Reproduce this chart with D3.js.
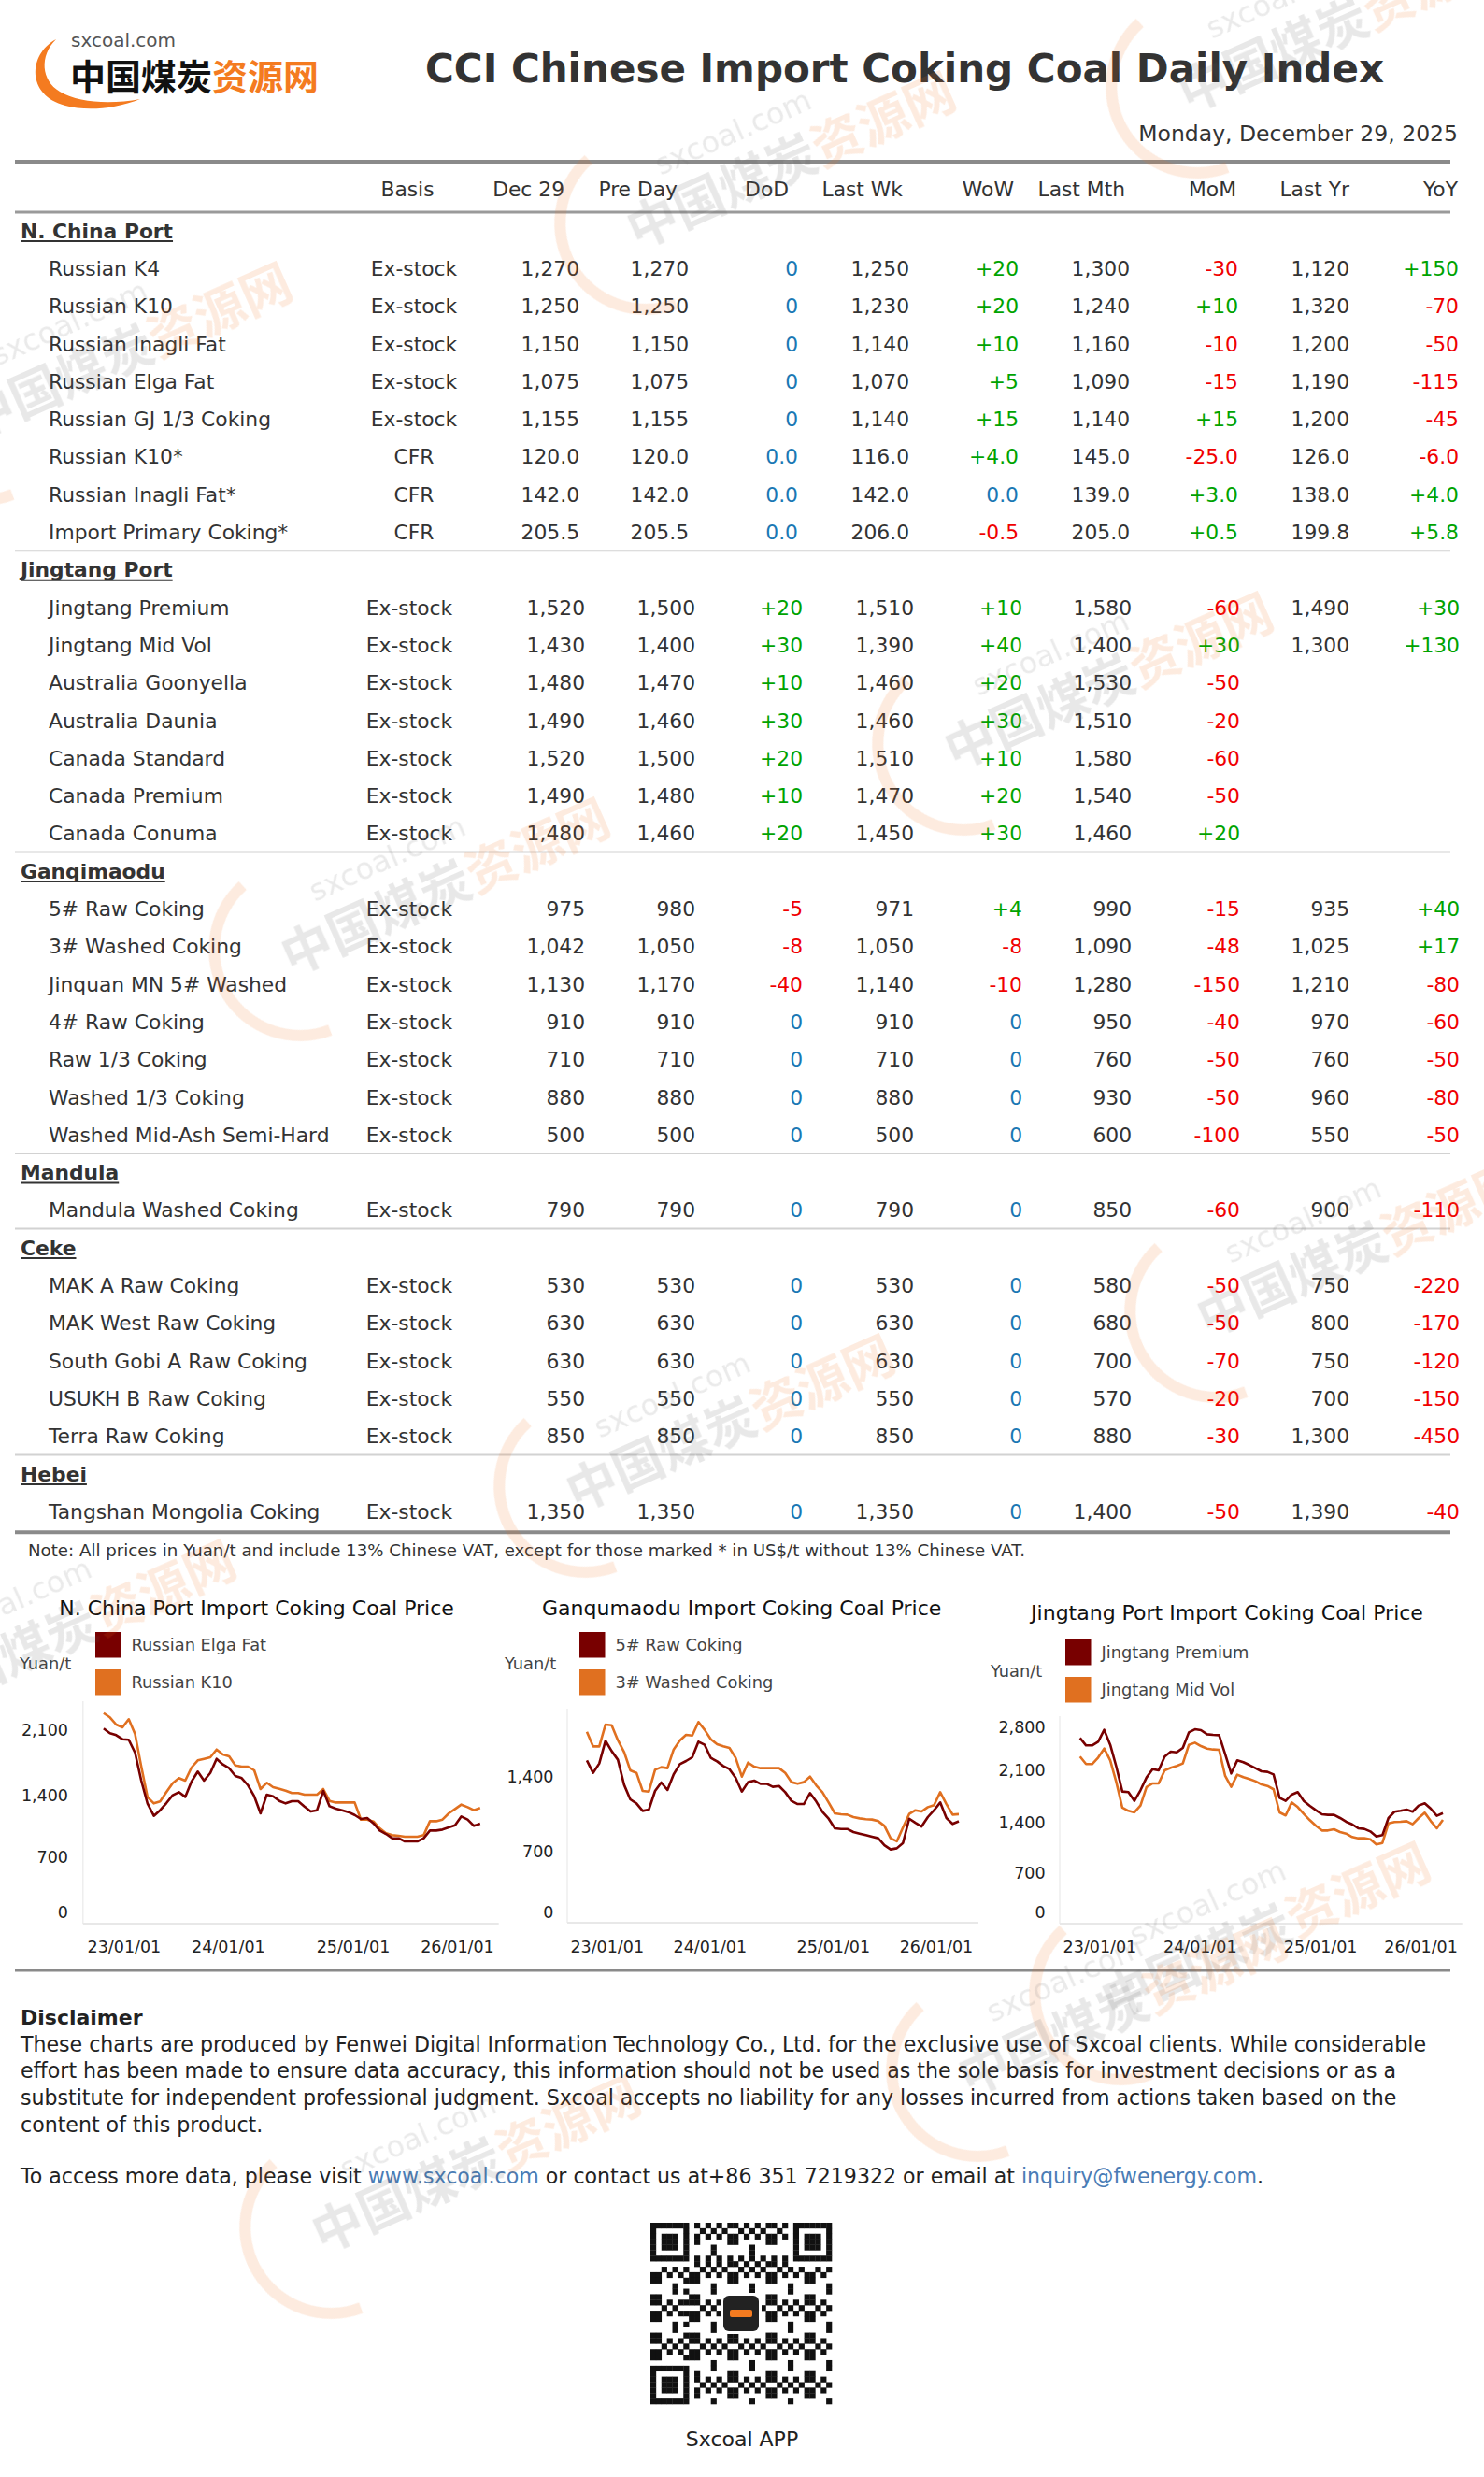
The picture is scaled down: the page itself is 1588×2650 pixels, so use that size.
<!DOCTYPE html>
<html><head><meta charset="utf-8">
<script src="https://cdn.jsdelivr.net/npm/d3@7"></script>
<style>
html,body{margin:0;padding:0;background:#fff;}
svg text{font-family:"DejaVu Sans",sans-serif;}
</style></head>
<body><svg id="page" width="1588" height="2650" xmlns="http://www.w3.org/2000/svg"></svg>
<script>
// ---------------- DATA ----------------
const reportTitle = "CCI Chinese Import Coking Coal Daily Index";
const reportDate = "Monday, December 29, 2025";
const columnHeaders = ["Basis","Dec 29","Pre Day","DoD","Last Wk","WoW","Last Mth","MoM","Last Yr","YoY"];
const sectionNames = ["N. China Port","Jingtang Port","Ganqimaodu","Mandula","Ceke","Hebei"];

const nChinaPortRows = [
  ["Russian K4","Ex-stock","1,270","1,270","0","1,250","+20","1,300","-30","1,120","+150"],
  ["Russian K10","Ex-stock","1,250","1,250","0","1,230","+20","1,240","+10","1,320","-70"],
  ["Russian Inagli Fat","Ex-stock","1,150","1,150","0","1,140","+10","1,160","-10","1,200","-50"],
  ["Russian Elga Fat","Ex-stock","1,075","1,075","0","1,070","+5","1,090","-15","1,190","-115"],
  ["Russian GJ 1/3 Coking","Ex-stock","1,155","1,155","0","1,140","+15","1,140","+15","1,200","-45"],
  ["Russian K10*","CFR","120.0","120.0","0.0","116.0","+4.0","145.0","-25.0","126.0","-6.0"],
  ["Russian Inagli Fat*","CFR","142.0","142.0","0.0","142.0","0.0","139.0","+3.0","138.0","+4.0"],
  ["Import Primary Coking*","CFR","205.5","205.5","0.0","206.0","-0.5","205.0","+0.5","199.8","+5.8"]
];
const jingtangPortRows = [
  ["Jingtang Premium","Ex-stock","1,520","1,500","+20","1,510","+10","1,580","-60","1,490","+30"],
  ["Jingtang Mid Vol","Ex-stock","1,430","1,400","+30","1,390","+40","1,400","+30","1,300","+130"],
  ["Australia Goonyella","Ex-stock","1,480","1,470","+10","1,460","+20","1,530","-50","",""],
  ["Australia Daunia","Ex-stock","1,490","1,460","+30","1,460","+30","1,510","-20","",""],
  ["Canada Standard","Ex-stock","1,520","1,500","+20","1,510","+10","1,580","-60","",""],
  ["Canada Premium","Ex-stock","1,490","1,480","+10","1,470","+20","1,540","-50","",""],
  ["Canada Conuma","Ex-stock","1,480","1,460","+20","1,450","+30","1,460","+20","",""]
];
const ganqimaoduRows = [
  ["5# Raw Coking","Ex-stock","975","980","-5","971","+4","990","-15","935","+40"],
  ["3# Washed Coking","Ex-stock","1,042","1,050","-8","1,050","-8","1,090","-48","1,025","+17"],
  ["Jinquan MN 5# Washed","Ex-stock","1,130","1,170","-40","1,140","-10","1,280","-150","1,210","-80"],
  ["4# Raw Coking","Ex-stock","910","910","0","910","0","950","-40","970","-60"],
  ["Raw 1/3 Coking","Ex-stock","710","710","0","710","0","760","-50","760","-50"],
  ["Washed 1/3 Coking","Ex-stock","880","880","0","880","0","930","-50","960","-80"],
  ["Washed Mid-Ash Semi-Hard","Ex-stock","500","500","0","500","0","600","-100","550","-50"]
];
const mandulaRows = [
  ["Mandula Washed Coking","Ex-stock","790","790","0","790","0","850","-60","900","-110"]
];
const cekeRows = [
  ["MAK A Raw Coking","Ex-stock","530","530","0","530","0","580","-50","750","-220"],
  ["MAK West Raw Coking","Ex-stock","630","630","0","630","0","680","-50","800","-170"],
  ["South Gobi A Raw Coking","Ex-stock","630","630","0","630","0","700","-70","750","-120"],
  ["USUKH B Raw Coking","Ex-stock","550","550","0","550","0","570","-20","700","-150"],
  ["Terra Raw Coking","Ex-stock","850","850","0","850","0","880","-30","1,300","-450"]
];
const hebeiRows = [
  ["Tangshan Mongolia Coking","Ex-stock","1,350","1,350","0","1,350","0","1,400","-50","1,390","-40"]
];
const noteText = "Note:  All prices in Yuan/t and include 13% Chinese VAT, except for those marked * in US$/t without 13% Chinese VAT.";

// chart series (Yuan/t), read at evenly spaced points from late 2022 to 29 Dec 2025
const russianElgaFat = [2107,2057,2037,1993,1987,1850,1550,1298,1162,1225,1305,1393,1427,1375,1540,1647,1550,1633,1783,1723,1683,1600,1577,1500,1382,1190,1400,1382,1330,1302,1327,1327,1267,1211,1225,1440,1270,1242,1225,1204,1172,1127,1137,1078,997,959,910,910,875,875,875,910,997,997,1008,1032,1057,1155,1120,1050,1075];
const russianK10 = [2273,2227,2150,2120,2207,2050,1700,1372,1302,1323,1427,1523,1577,1550,1690,1767,1783,1800,1883,1830,1810,1713,1700,1700,1660,1460,1527,1480,1463,1443,1417,1417,1400,1400,1400,1460,1330,1312,1312,1312,1312,1120,1120,1099,1022,966,945,938,928,928,928,945,1102,1102,1120,1190,1239,1288,1260,1225,1250];
const rawCoking5 = [1546,1429,1517,1730,1633,1552,1318,1181,1143,1073,1085,1260,1339,1269,1415,1511,1540,1575,1721,1692,1569,1537,1493,1464,1383,1254,1342,1356,1327,1327,1298,1306,1248,1167,1137,1137,1240,1161,1065,1000,910,904,904,875,860,846,831,817,752,712,723,773,1000,962,927,1015,1079,1152,1006,951,975];
const washedCoking3 = [1814,1677,1677,1881,1875,1735,1625,1453,1429,1260,1254,1458,1482,1473,1648,1732,1785,1779,1905,1832,1744,1698,1677,1662,1569,1394,1525,1487,1473,1473,1473,1473,1429,1342,1327,1342,1394,1312,1248,1152,1050,1041,1038,1015,1003,995,992,977,933,817,788,919,1044,1079,1067,1108,1126,1248,1137,1038,1042];
const jingtangPremium = [2621,2499,2499,2560,2754,2509,2151,1808,1800,1683,1825,1996,2110,2092,2315,2396,2386,2458,2713,2764,2749,2682,2672,2667,2355,2050,2253,2223,2177,2126,2079,2071,2037,1725,1683,1767,1800,1683,1617,1558,1504,1496,1496,1454,1404,1368,1314,1305,1270,1201,1218,1454,1538,1550,1567,1538,1621,1650,1579,1483,1520];
const jingtangMidVol = [2315,2192,2192,2300,2447,2253,1933,1592,1550,1530,1621,1867,1917,1917,2092,2131,2161,2202,2509,2544,2488,2447,2432,2427,2017,1871,2033,2000,1975,1946,1904,1883,1838,1529,1488,1662,1600,1508,1425,1348,1283,1283,1300,1262,1240,1193,1175,1175,1162,1089,1110,1380,1400,1404,1412,1370,1454,1525,1412,1314,1430];
const xTickLabels = ["23/01/01","24/01/01","25/01/01","26/01/01"];
const xTickIndex = [3.2, 19.8, 39.7, 56.3];
const yTicksNChina = [0,700,1400,2100];
const yTicksGanq = [0,700,1400];
const yTicksJingtang = [0,700,1400,2100,2800];

const disclaimerTitle = "Disclaimer";
const disclaimerLines = [
  "These charts are produced by Fenwei Digital Information Technology Co., Ltd. for the exclusive use of Sxcoal clients. While considerable",
  "effort has been made to ensure data accuracy, this information should not be used as the sole basis for investment decisions or as a",
  "substitute for independent professional judgment. Sxcoal accepts no liability for any losses incurred from actions taken based on the",
  "content of this product."
];
const contactParts = [
  ["To access more data, please visit ", false],
  ["www.sxcoal.com", true],
  [" or contact us at+86 351 7219322 or email at ", false],
  ["inquiry@fwenergy.com", true],
  [".", false]
];

// ---------------- DRAW ----------------
const svg = d3.select("#page");
svg.append("rect").attr("width",1588).attr("height",2650).attr("fill","#fff");
const TXT = "#333";
const GREEN = "#00a300", RED = "#f00000", BLUE = "#1a78b4";
const DARK = "#780000", ORANGE = "#e07020";

// Logo
const logo = svg.append("g");
logo.append("path")
  .attr("d","M60,42 C30,58 28,102 70,113 C92,119 122,117 150,106 C118,112 84,110 64,98 C44,86 42,60 60,42 Z")
  .attr("fill","#f47b20");
logo.append("text").attr("x",76).attr("y",50).attr("font-size",20).attr("fill","#555").text("sxcoal.com");
const cn = logo.append("text").attr("x",75).attr("y",96).attr("font-size",38).attr("font-weight","bold")
  .style("font-family","'Noto Sans CJK SC',sans-serif");
cn.append("tspan").attr("fill","#111").text("中国煤炭");
cn.append("tspan").attr("fill","#f47b20").text("资源网");

svg.append("text").attr("x",968).attr("y",88).attr("text-anchor","middle")
  .attr("font-size",42).attr("font-weight","bold").attr("fill",TXT).text(reportTitle);
svg.append("text").attr("x",1560).attr("y",143).attr("dy","0.35em").attr("text-anchor","end")
  .attr("font-size",23.5).attr("fill",TXT).text(reportDate);

function hline(y, w, color, x1=16, x2=1552){
  svg.append("line").attr("x1",x1).attr("x2",x2).attr("y1",y).attr("y2",y)
    .attr("stroke",color).attr("stroke-width",w);
}
hline(173, 4, "#8a8a8a");
hline(227, 3, "#9a9a9a");

// header row
const FS = 21.8;
const headRight = [604,725,844,966,1085,1204,1323,1444,1560];
svg.append("text").attr("x",436).attr("y",202).attr("dy","0.35em").attr("text-anchor","middle")
  .attr("font-size",FS).attr("fill",TXT).text(columnHeaders[0]);
svg.selectAll("text.hdr").data(columnHeaders.slice(1)).join("text").attr("class","hdr")
  .attr("x",(d,i)=>headRight[i]).attr("y",202).attr("dy","0.35em").attr("text-anchor","end")
  .attr("font-size",FS).attr("fill",TXT).text(d=>d);

const colsA = {basis:443, right:[620,737,854,973,1090,1209,1325,1444,1561]};
const colsB = {basis:438, right:[626,744,859,978,1094,1211,1327,1444,1562]};
const sections = [
  {name:sectionNames[0], rows:nChinaPortRows, cols:colsA},
  {name:sectionNames[1], rows:jingtangPortRows, cols:colsB},
  {name:sectionNames[2], rows:ganqimaoduRows, cols:colsB},
  {name:sectionNames[3], rows:mandulaRows, cols:colsB},
  {name:sectionNames[4], rows:cekeRows, cols:colsB},
  {name:sectionNames[5], rows:hebeiRows, cols:colsB}
];
const rowY = k => 247 + 40.3*k;
function changeColor(v){ return v.startsWith("+") ? GREEN : (v.startsWith("-") ? RED : BLUE); }
let k = 0;
sections.forEach((sec, si) => {
  if (si > 0) hline(rowY(k) - 20.5, 2, "#d2d2d2");
  const t = svg.append("text").attr("x",22).attr("y",rowY(k)).attr("dy","0.35em")
    .attr("font-size",FS).attr("font-weight","bold").attr("fill",TXT).text(sec.name);
  const w = t.node().getComputedTextLength();
  svg.append("line").attr("x1",22).attr("x2",22+w).attr("y1",rowY(k)+11).attr("y2",rowY(k)+11)
    .attr("stroke",TXT).attr("stroke-width",2);
  k++;
  const start = k;
  const rows = svg.append("g").selectAll("g").data(sec.rows).join("g")
    .attr("transform",(d,i)=>`translate(0,${rowY(start+i)})`);
  rows.append("text").attr("x",52).attr("dy","0.35em").attr("font-size",FS).attr("fill",TXT).text(d=>d[0]);
  rows.append("text").attr("x",sec.cols.basis).attr("dy","0.35em").attr("text-anchor","middle")
    .attr("font-size",FS).attr("fill",TXT).text(d=>d[1]);
  rows.each(function(d){
    const g = d3.select(this);
    d.slice(2).forEach((v,j) => {
      if (!v) return;
      g.append("text").attr("x",sec.cols.right[j]).attr("dy","0.35em").attr("text-anchor","end")
        .attr("font-size",FS).attr("fill",(j>0 && j%2===0) ? changeColor(v) : TXT).text(v);
    });
  });
  k += sec.rows.length;
});
hline(rowY(k-1) + 22, 4, "#8a8a8a");
svg.append("text").attr("x",30).attr("y",1659).attr("dy","0.35em").attr("font-size",18.2).attr("fill",TXT).text(noteText);

// ---------------- CHARTS ----------------
function drawChart(c){
  const g = svg.append("g");
  g.append("text").attr("x",c.titleX).attr("y",c.titleY).attr("text-anchor","middle")
    .attr("font-size",22).attr("fill","#111").text(c.title);
  c.series.forEach((s,i) => {
    g.append("rect").attr("x",c.legX).attr("y",c.legY + i*40).attr("width",27.5).attr("height",27.5).attr("fill",s.color);
    g.append("text").attr("x",c.legX+38.5).attr("y",c.legY + i*40 + 14).attr("dy","0.35em")
      .attr("font-size",17.8).attr("fill","#444").text(s.name);
  });
  g.append("text").attr("x",c.unitX).attr("y",c.unitY).attr("dy","0.35em").attr("font-size",17.8).attr("fill","#444").text("Yuan/t");
  g.append("line").attr("x1",c.frameL).attr("x2",c.frameL).attr("y1",c.frameT).attr("y2",c.frameB).attr("stroke","#eeeeee").attr("stroke-width",1.5);
  g.append("line").attr("x1",c.frameL).attr("x2",c.frameR).attr("y1",c.frameB).attr("y2",c.frameB).attr("stroke","#e8e8e8").attr("stroke-width",2);

  const n = c.series[0].values.length;
  const x = d3.scaleLinear().domain([0, n-1]).range([c.x0, c.x1]);
  const y = d3.scaleLinear().domain(c.yTicks).range(c.yPos);

  const ya = g.append("g").attr("transform",`translate(${c.tickRight},0)`)
    .call(d3.axisLeft(y).tickValues(c.yTicks).tickSize(0).tickPadding(0).tickFormat(d3.format(",")));
  ya.select(".domain").remove();
  ya.selectAll("text").attr("font-size",17.5).attr("fill","#222").style("font-family","'DejaVu Sans',sans-serif").attr("dy","0.35em");

  const xa = g.append("g").attr("transform",`translate(0,2083)`)
    .call(d3.axisBottom(x).tickValues(xTickIndex).tickSize(0).tickPadding(0).tickFormat((d,i)=>xTickLabels[i]));
  xa.select(".domain").remove();
  xa.selectAll("text").attr("y",0).attr("dy","0.35em").attr("font-size",17.5).attr("fill","#222").style("font-family","'DejaVu Sans',sans-serif");

  const line = d3.line().x((d,i)=>x(i)).y(d=>y(d));
  c.series.slice().reverse().forEach(s => {
    g.append("path").datum(s.values).attr("d",line).attr("fill","none")
      .attr("stroke",s.color).attr("stroke-width",2.6).attr("stroke-linejoin","round");
  });
}

drawChart({
  title:"N. China Port Import Coking Coal Price", titleX:274.6, titleY:1728,
  legX:102, legY:1746, unitX:21, unitY:1780,
  frameL:88.8, frameT:1820, frameB:2058, frameR:533.7,
  x0:110.9, x1:513.8, tickRight:73,
  yTicks:yTicksNChina, yPos:[2045.7,1986.7,1920,1850],
  series:[{name:"Russian Elga Fat", color:DARK, values:russianElgaFat},
          {name:"Russian K10", color:ORANGE, values:russianK10}]
});
drawChart({
  title:"Ganqumaodu Import Coking Coal Price", titleX:793.7, titleY:1728,
  legX:620, legY:1746, unitX:540, unitY:1780,
  frameL:607, frameT:1828, frameB:2057, frameR:1047,
  x0:628, x1:1026, tickRight:592.5,
  yTicks:yTicksGanq, yPos:[2045.7,1980,1900],
  series:[{name:"5# Raw Coking", color:DARK, values:rawCoking5},
          {name:"3# Washed Coking", color:ORANGE, values:washedCoking3}]
});
drawChart({
  title:"Jingtang Port Import Coking Coal Price", titleX:1313, titleY:1733,
  legX:1140, legY:1754, unitX:1060, unitY:1788,
  frameL:1134, frameT:1836, frameB:2058, frameR:1564.7,
  x0:1155.7, x1:1544, tickRight:1118.6,
  yTicks:yTicksJingtang, yPos:[2045.7,2003.3,1949.3,1893.3,1847.7],
  series:[{name:"Jingtang Premium", color:DARK, values:jingtangPremium},
          {name:"Jingtang Mid Vol", color:ORANGE, values:jingtangMidVol}]
});

hline(2108, 3, "#8a8a8a");

// ---------------- FOOTER ----------------
svg.append("text").attr("x",22).attr("y",2158).attr("dy","0.35em").attr("font-size",22).attr("font-weight","bold").attr("fill","#222").text(disclaimerTitle);
svg.selectAll("text.disc").data(disclaimerLines).join("text").attr("class","disc")
  .attr("x",22).attr("y",(d,i)=>2187 + i*28.6).attr("dy","0.35em").attr("font-size",22.1).attr("fill","#222").text(d=>d);
const ct = svg.append("text").attr("x",22).attr("y",2328).attr("dy","0.35em").attr("font-size",22.1).attr("fill","#222");
contactParts.forEach(p => ct.append("tspan").attr("fill", p[1] ? "#4a7cb5" : "#222").text(p[0]));

// QR code (decorative)
const qr = svg.append("g").attr("transform","translate(696,2378)");
const QN = 33, QC = 194/33;
function inFinder(r,c){ return (r<8&&c<8)||(r<8&&c>=QN-8)||(r>=QN-8&&c<8); }
for (let r=0;r<QN;r++) for (let c=0;c<QN;c++){
  let on;
  if (inFinder(r,c)) {
    const rr = r<8 ? r : r-(QN-7), cc = c<8 ? c : c-(QN-7);
    if (rr<0||cc<0||rr>6||cc>6) on=false;
    else on = (rr===0||rr===6||cc===0||cc===6||(rr>=2&&rr<=4&&cc>=2&&cc<=4));
  } else if (r===6) on = c%2===0;
  else if (c===6) on = r%2===0;
  else on = ((r*r*3 + c*c*5 + r*c*7 + r + 2*c) % 7) < 3;
  if (on) qr.append("rect").attr("x",c*QC).attr("y",r*QC).attr("width",QC+0.3).attr("height",QC+0.3).attr("fill","#111");
}
qr.append("rect").attr("x",97-22).attr("y",97-22).attr("width",44).attr("height",44).attr("fill","#fff");
qr.append("rect").attr("x",97-19).attr("y",97-19).attr("width",38).attr("height",38).attr("rx",6).attr("fill","#222");
qr.append("rect").attr("x",97-12).attr("y",97-4).attr("width",24).attr("height",8).attr("rx",2).attr("fill","#f47b20");
svg.append("text").attr("x",794).attr("y",2609).attr("dy","0.35em").attr("text-anchor","middle").attr("font-size",22).attr("fill","#222").text("Sxcoal APP");

// ---------------- WATERMARKS ----------------
const wmPos = [[1400,40],[810,186],[100,390],[1150,743],[440,963],[1420,1350],[745,1537],[40,1757],[1318,2080],[1165,2162],[473,2330]];
wmPos.forEach(p => {
  const w = svg.append("g").attr("transform",`translate(${p[0]},${p[1]}) rotate(-24)`).attr("opacity",0.14);
  w.append("path").attr("d", d3.arc()({innerRadius:86, outerRadius:98, startAngle:Math.PI*1.02, endAngle:Math.PI*1.9}))
    .attr("transform","translate(-130,0)").attr("fill","#f06a10");
  w.append("text").attr("x",-95).attr("y",-40).attr("font-size",32).attr("fill","#666").text("sxcoal.com");
  const t = w.append("text").attr("x",-150).attr("y",22).attr("font-size",54).attr("font-weight","bold")
    .style("font-family","'Noto Sans CJK SC',sans-serif");
  t.append("tspan").attr("fill","#555").text("中国煤炭");
  t.append("tspan").attr("fill","#f06a10").text("资源网");
});
</script>
</body></html>
